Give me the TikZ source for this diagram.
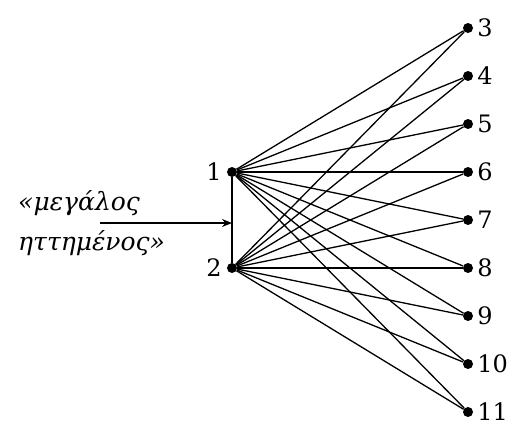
\documentclass[tikz,border=0pt]{standalone}
\usepackage{fontspec}
\setmainfont{DejaVu Serif}
\usetikzlibrary{arrows.meta, positioning}

\begin{document}
\begin{tikzpicture}[x=1pt, y=-1pt]
	\tikzstyle{dot} = [circle, fill=black, inner sep=0pt, minimum size=10pt]
	\tikzstyle{num} = [inner sep=1pt, font=\fontsize{24}{26}\selectfont]
	\tikzstyle{gtext} = [anchor=base west, inner sep=0pt, font=\fontsize{25}{28}\selectfont\itshape]
	\tikzstyle{edge} = [line width=1.3pt]
	\tikzstyle{arrow} = [line width=1.3pt, -{Stealth[length=10pt, width=8pt]}]
	\useasboundingbox (0,0) rectangle (524,428);

	\node[dot](n1) at (232,172){};
	\node[num, left=4pt of n1]{1};
	\node[dot](n2) at (232,268){};
	\node[num, left=4pt of n2]{2};

	% right column
	\foreach \i in {3,...,11}{
		\node[dot](n\i) at (468,{28+48*(\i-3)}){};
		\node[num, right=3pt of n\i]{\i};
	}

	\foreach \i in {3,...,11}{
		\draw[edge] (n1) to (n\i);
		\draw[edge] (n2) to (n\i);
	}
	\draw[edge] (n1) to (n2);

	\node[gtext](t1) at (18,210){«μεγάλος};
	\node[gtext](t2) at (18,250){ηττημένος»};
	\coordinate (a0) at (100,223);
	\coordinate (a1) at (232,223);
	\draw[arrow] (a0) to (a1);
\end{tikzpicture}
\end{document}
